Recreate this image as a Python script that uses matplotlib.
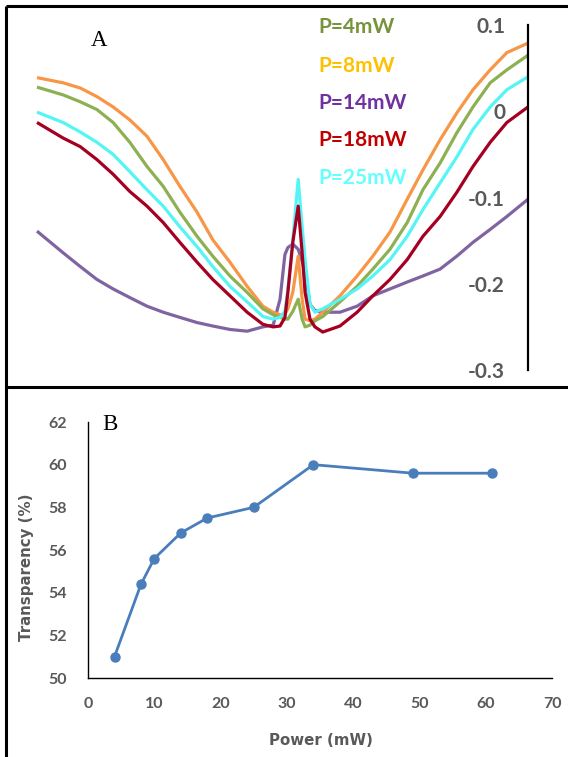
import matplotlib
matplotlib.use("Agg")
import matplotlib.pyplot as plt
from matplotlib.lines import Line2D

# ---------------- Panel A data ----------------
detuning = [0, 5.3, 8.8, 12.2, 15.5, 18.9, 22.4, 25.7, 29.1, 32.6, 35.8, 39.3, 42.8, 46.0,
            48.1, 49.5, 50.5, 51.1, 52.1, 53.2, 54.0, 54.6, 55.6, 56.6, 58.2, 61.7, 65.2,
            68.4, 71.9, 75.4, 78.6, 82.1, 85.5, 88.8, 92.3, 95.7, 100]

p4 = [0.028, 0.019, 0.011, 0.002, -0.013, -0.036, -0.064, -0.087, -0.117, -0.145,
      -0.168, -0.191, -0.210, -0.229, -0.236, -0.239, -0.241, -0.241, -0.232, -0.218,
      -0.241, -0.250, -0.248, -0.243, -0.238, -0.221, -0.203, -0.183, -0.160, -0.129,
      -0.091, -0.060, -0.025, 0.005, 0.033, 0.048, 0.065]
p8 = [0.039, 0.033, 0.027, 0.017, 0.005, -0.010, -0.029, -0.056, -0.087, -0.117,
      -0.149, -0.175, -0.203, -0.226, -0.233, -0.236, -0.235, -0.229, -0.210, -0.168,
      -0.218, -0.241, -0.243, -0.241, -0.233, -0.214, -0.191, -0.168, -0.140, -0.102,
      -0.068, -0.033, -0.002, 0.025, 0.048, 0.068, 0.079]
p14 = [-0.139, -0.164, -0.180, -0.195, -0.206, -0.216, -0.226, -0.233, -0.239, -0.245,
       -0.249, -0.253, -0.255, -0.250, -0.248, -0.218, -0.166, -0.158, -0.154, -0.160,
       -0.174, -0.187, -0.224, -0.231, -0.233, -0.233, -0.226, -0.214, -0.206, -0.198,
       -0.191, -0.183, -0.168, -0.152, -0.137, -0.122, -0.102]
p18 = [-0.013, -0.031, -0.041, -0.056, -0.073, -0.093, -0.110, -0.129, -0.152, -0.175,
       -0.195, -0.214, -0.233, -0.247, -0.250, -0.249, -0.239, -0.210, -0.152, -0.110,
       -0.164, -0.210, -0.241, -0.250, -0.256, -0.249, -0.233, -0.214, -0.195, -0.172,
       -0.145, -0.122, -0.094, -0.064, -0.036, -0.013, 0.005]
p25 = [-0.001, -0.013, -0.024, -0.036, -0.050, -0.070, -0.091, -0.110, -0.134, -0.157,
       -0.180, -0.203, -0.221, -0.238, -0.241, -0.239, -0.232, -0.206, -0.149, -0.079,
       -0.134, -0.172, -0.224, -0.233, -0.229, -0.218, -0.206, -0.191, -0.172, -0.145,
       -0.114, -0.083, -0.053, -0.021, 0.005, 0.025, 0.040]

series_labels = ["P=4mW", "P=8mW", "P=14mW", "P=18mW", "P=25mW"]
a_ticks = [0.1, 0.0, -0.1, -0.2, -0.3]
a_tick_labels = ["0.1", "0", "-0.1", "-0.2", "-0.3"]

# ---------------- Panel B data ----------------
power = [4, 8, 10, 14, 18, 25, 34, 49, 61]
transparency = [51.0, 54.4, 55.6, 56.8, 57.5, 58.0, 60.0, 59.6, 59.6]
b_xticks = [0, 10, 20, 30, 40, 50, 60, 70]
b_yticks = [50, 52, 54, 56, 58, 60, 62]

# ---------------- styling ----------------
line_colors = ["#8DB052", "#F79646", "#8064A2", "#A50021", "#55F5F5"]
text_colors = ["#77933C", "#FFC000", "#7030A0", "#C00000", "#66FFFF"]
gray = "#595959"
font = "Lato"

W, H = 568, 757
fig = plt.figure(figsize=(W / 100, H / 100), dpi=100)
fig.patch.set_facecolor("white")

# ---------------- Panel A ----------------
axA = fig.add_axes([36 / W, 1 - 370 / H, 492 / W, 345 / H])
series = [p4, p8, p14, p18, p25]
draw_order = [2, 1, 0, 4, 3]  # purple, orange, green, cyan, red
for i in draw_order:
    axA.plot(detuning, series[i], color=line_colors[i], lw=2.3,
             solid_joinstyle="round", solid_capstyle="butt")
axA.set_xlim(-0.2, 100)
axA.set_ylim(-0.3, 0.1)
for s in ["left", "top", "bottom"]:
    axA.spines[s].set_visible(False)
axA.spines["right"].set_linewidth(1.6)
axA.spines["right"].set_color("black")
axA.set_xticks([])
axA.yaxis.tick_right()
axA.set_yticks(a_ticks)
axA.set_yticklabels(a_tick_labels)
axA.tick_params(axis="y", length=0, pad=-16.5, labelsize=15, labelcolor=gray)
for lab in axA.get_yticklabels():
    lab.set_horizontalalignment("right")
    lab.set_fontfamily(font)
    lab.set_fontweight("bold")
axA.patch.set_alpha(0)

legend_y = [27, 66, 103, 140, 178]
for lab, col, yy in zip(series_labels, text_colors, legend_y):
    fig.text(318 / W, 1 - yy / H, lab, color=col, fontsize=15, fontweight="bold",
             family=font, ha="left", va="center")

fig.text(99 / W, 1 - 40 / H, "A", family="Liberation Serif", fontsize=16.5,
         ha="center", va="center", color="black")

# ---------------- Panel B ----------------
axB = fig.add_axes([88 / W, 1 - 678 / H, 464 / W, 256 / H])
axB.plot(power, transparency, color="#4A7EBB", lw=2, marker="o", markersize=6.5,
         markerfacecolor="#4A7EBB", markeredgecolor="#4A7EBB")
axB.set_xlim(0, 70)
axB.set_ylim(50, 62)
axB.set_xticks(b_xticks)
axB.set_yticks(b_yticks)
for s in ["top", "right"]:
    axB.spines[s].set_visible(False)
for s in ["left", "bottom"]:
    axB.spines[s].set_linewidth(1.0)
    axB.spines[s].set_color("black")
axB.tick_params(axis="both", length=0, labelsize=11.5, labelcolor=gray)
axB.tick_params(axis="y", pad=15)
axB.tick_params(axis="x", pad=14)
for lab in axB.get_xticklabels() + axB.get_yticklabels():
    lab.set_fontfamily(font)
    lab.set_fontweight("bold")
axB.set_ylabel("Transparency (%)", color=gray, fontsize=10.8, family="DejaVu Sans",
               fontweight="bold")
axB.set_xlabel("Power (mW)", color=gray, fontsize=10.8, family="DejaVu Sans",
               fontweight="bold")
axB.yaxis.set_label_coords(-0.116, 0.434)
axB.xaxis.set_label_coords(0.502, -0.215)

fig.text(110 / W, 1 - 424 / H, "B", family="Liberation Serif", fontsize=16.5,
         ha="center", va="center", color="black")

# ---------------- panel frames ----------------
frame_kw = dict(color="black", lw=2.2, transform=fig.transFigure, solid_capstyle="butt")
fig.add_artist(Line2D([6 / W, 1], [1 - 6 / H, 1 - 6 / H], **frame_kw))
fig.add_artist(Line2D([6 / W, 1], [1 - 387 / H, 1 - 387 / H], **frame_kw))
fig.add_artist(Line2D([6 / W, 6 / W], [0, 1 - 6 / H], **frame_kw))

fig.savefig("out.png", dpi=100)
